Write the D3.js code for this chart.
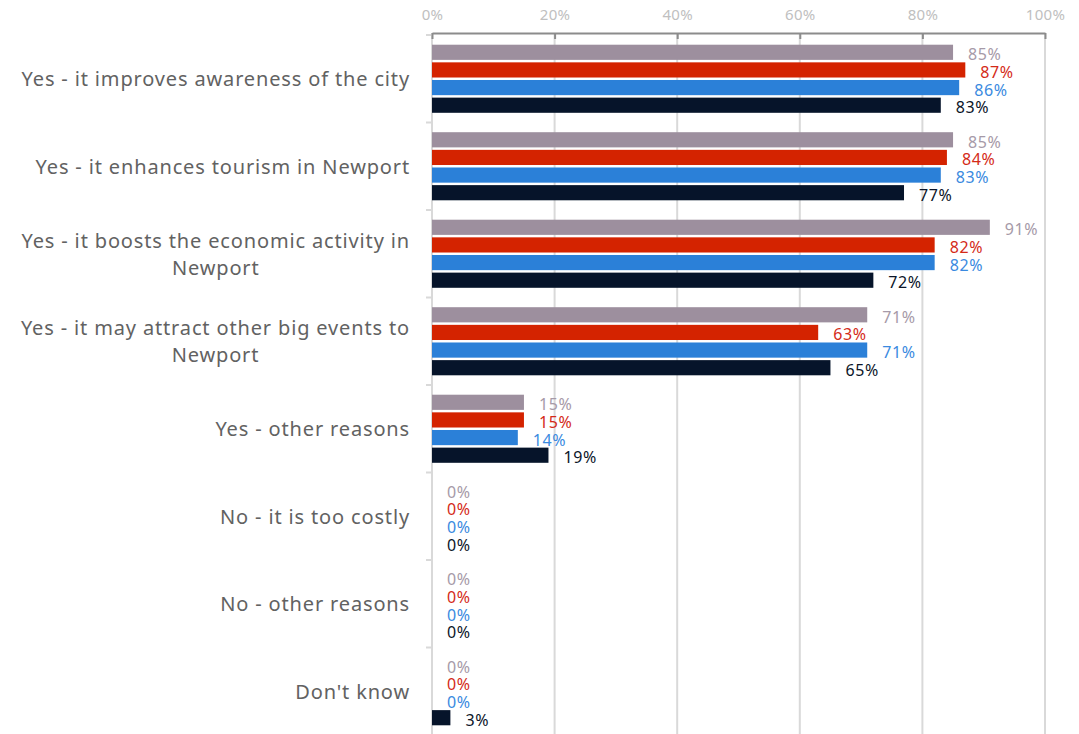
<!DOCTYPE html>
<html>
<head>
<meta charset="utf-8">
<script src="https://cdn.jsdelivr.net/npm/d3@7"></script>
<style>
  html, body { margin: 0; padding: 0; background: #fff; }
  svg { display: block; }
  text { font-family: "Noto Sans", "Liberation Sans", sans-serif; }
</style>
</head>
<body>
<svg id="chart" width="1079" height="734"></svg>
<script>
const categories = [
  "Yes - it improves awareness of the city",
  "Yes - it enhances tourism in Newport",
  "Yes - it boosts the economic activity in Newport",
  "Yes - it may attract other big events to Newport",
  "Yes - other reasons",
  "No - it is too costly",
  "No - other reasons",
  "Don't know"
];
const categoryLines = [
  ["Yes - it improves awareness of the city"],
  ["Yes - it enhances tourism in Newport"],
  ["Yes - it boosts the economic activity in", "Newport"],
  ["Yes - it may attract other big events to", "Newport"],
  ["Yes - other reasons"],
  ["No - it is too costly"],
  ["No - other reasons"],
  ["Don't know"]
];
const seriesNames = ["Series 1", "Series 2", "Series 3", "Series 4"];
const series1 = [85, 85, 91, 71, 15, 0, 0, 0];
const series2 = [87, 84, 82, 63, 15, 0, 0, 0];
const series3 = [86, 83, 82, 71, 14, 0, 0, 0];
const series4 = [83, 77, 72, 65, 19, 0, 0, 3];
const tickValues = [0, 20, 40, 60, 80, 100];

(function () {
const barColors = ["#9d8f9e", "#d42300", "#2b80d8", "#06142a"];
const labelColors = ["#a69aa8", "#d42a18", "#3a8ae0", "#0b1528"];
const allSeries = [series1, series2, series3, series4];

const svg = d3.select("#chart");
const mLeft = 432, mRight = 1045, mTop = 35, mBottom = 735;

const x = d3.scaleLinear().domain([0, 100]).range([mLeft, mRight]);
const y0 = d3.scaleBand().domain(categories).range([mTop, mBottom]).paddingInner(0).paddingOuter(0);
const y1 = d3.scaleBand().domain(seriesNames).range([0, y0.bandwidth()]).paddingInner(0.14).paddingOuter(0.55);

// gridlines
svg.append("g")
  .selectAll("line")
  .data(tickValues.slice(1))
  .join("line")
  .attr("x1", d => x(d)).attr("x2", d => x(d))
  .attr("y1", 33).attr("y2", 734)
  .attr("stroke", "#d9d9d9").attr("stroke-width", 2);

// left axis line with group ticks
svg.append("line").attr("x1", mLeft).attr("x2", mLeft).attr("y1", 33).attr("y2", 734)
  .attr("stroke", "#d9d9d9").attr("stroke-width", 2);
const boundaries = categories.map(c => y0(c)).concat([mBottom]);
svg.append("g").selectAll("line").data(boundaries).join("line")
  .attr("x1", mLeft - 6).attr("x2", mLeft).attr("y1", d => d).attr("y2", d => d)
  .attr("stroke", "#d9d9d9").attr("stroke-width", 2);

// top axis
const xAxis = d3.axisTop(x).tickValues(tickValues).tickFormat(d => d + "%").tickSizeInner(-6).tickSizeOuter(0).tickPadding(13);
const gx = svg.append("g").attr("transform", "translate(0,33)").call(xAxis);
gx.select(".domain").attr("stroke", "#8c8c8c").attr("stroke-width", 2);
gx.selectAll(".tick line").attr("stroke", "#8c8c8c").attr("stroke-width", 2);
gx.selectAll(".tick text").attr("fill", "#c0c0c0").attr("font-size", 15)
  .attr("font-family", "Noto Sans, sans-serif").style("letter-spacing", "0.3px");

// bars
const groups = svg.append("g").selectAll("g")
  .data(categories)
  .join("g")
  .attr("transform", d => `translate(0,${y0(d)})`);

groups.selectAll("rect")
  .data((d, i) => allSeries.map((s, k) => ({ k, v: s[i] })))
  .join("rect")
  .attr("x", x(0))
  .attr("y", d => y1(seriesNames[d.k]))
  .attr("width", d => x(d.v) - x(0))
  .attr("height", y1.bandwidth())
  .attr("fill", d => barColors[d.k]);

groups.selectAll("text.val")
  .data((d, i) => allSeries.map((s, k) => ({ k, v: s[i] })))
  .join("text")
  .attr("class", "val")
  .attr("x", d => x(d.v) + 15)
  .attr("y", d => y1(seriesNames[d.k]) + y1.bandwidth() / 2 + 2)
  .attr("dominant-baseline", "central")
  .attr("font-size", 16)
  .style("letter-spacing", "0.6px")
  .attr("fill", d => labelColors[d.k])
  .text(d => d.v + "%");

// category labels
svg.append("g").selectAll("text")
  .data(categories)
  .join("text")
  .attr("font-size", 20)
  .attr("fill", "#626262")
  .style("letter-spacing", "0.85px")
  .each(function (d, i) {
    const lines = categoryLines[i];
    const t = d3.select(this);
    const lh = 27;
    const yy = y0(d) + y0.bandwidth() / 2 - (lines.length - 1) * lh / 2;
    const first = t.append("tspan").attr("x", 410).attr("y", yy)
      .attr("text-anchor", "end").attr("dominant-baseline", "central").text(lines[0]);
    if (lines.length > 1) {
      const w = first.node().getComputedTextLength();
      const cx = 410 - w / 2;
      for (let j = 1; j < lines.length; j++) {
        t.append("tspan").attr("x", cx).attr("y", yy + j * lh)
          .attr("text-anchor", "middle").attr("dominant-baseline", "central").text(lines[j]);
      }
    }
  });
})();
</script>
</body>
</html>
